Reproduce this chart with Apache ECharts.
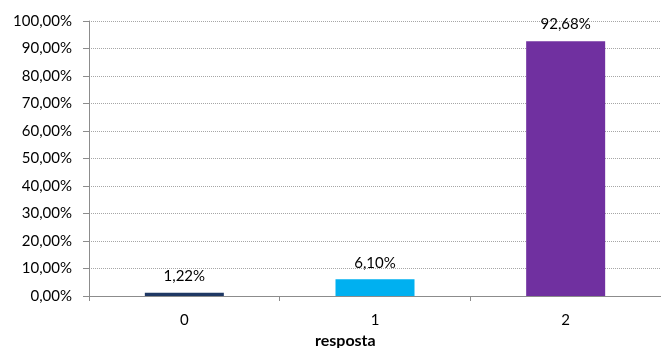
<!DOCTYPE html>
<html>
<head>
<meta charset="utf-8">
<script src="https://cdn.jsdelivr.net/npm/echarts@6/dist/echarts.min.js"></script>
<style>
  html, body { margin: 0; padding: 0; background: #fff; }
  #chart { width: 661px; height: 348px; }
</style>
</head>
<body>
<div id="chart"></div>
<script>
// Answer categories and their share of responses (%)
const categories = ['0', '1', '2'];
const shares = [1.22, 6.10, 92.68];
const barColors = ['#1f3864', '#00b0f0', '#7030a0'];
const axisTitle = 'resposta';

const FONT = 'Lato';
const fmtPct = v => v.toFixed(2).replace('.', ',') + '%';

const chart = echarts.init(document.getElementById('chart'), null, { renderer: 'canvas' });

chart.setOption({
  animation: false,
  backgroundColor: '#ffffff',
  grid: { left: 89, top: 21, width: 578, height: 275, containLabel: false },
  xAxis: {
    type: 'category',
    data: categories,
    axisLine: { lineStyle: { color: '#8c8c8c', width: 1 } },
    axisTick: { show: true, length: 5, alignWithLabel: false, lineStyle: { color: '#8c8c8c' } },
    axisLabel: { margin: 17, color: '#000', fontFamily: FONT, fontSize: 15 }
  },
  yAxis: {
    type: 'value',
    min: 0,
    max: 100,
    interval: 10,
    axisLine: { show: true, lineStyle: { color: '#8c8c8c', width: 1 } },
    axisTick: { show: true, length: 6, lineStyle: { color: '#8c8c8c' } },
    axisLabel: { margin: 17, color: '#000', fontFamily: FONT, fontSize: 15, formatter: v => fmtPct(v) },
    splitLine: { show: true, lineStyle: { color: '#a6a6a6', width: 1, type: [1, 1] } }
  },
  series: [{
    type: 'bar',
    barWidth: 79,
    data: shares.map((v, i) => ({ value: v, itemStyle: { color: barColors[i] } })),
    label: {
      show: true,
      position: 'top',
      distance: 9,
      color: '#000',
      fontFamily: FONT,
      fontSize: 15,
      formatter: p => fmtPct(p.value)
    }
  }],
  graphic: [{
    type: 'text',
    left: 315,
    top: 333,
    style: { text: axisTitle, fontFamily: FONT, fontSize: 16, fontWeight: 'bold', fill: '#000' }
  }]
});
</script>
</body>
</html>
